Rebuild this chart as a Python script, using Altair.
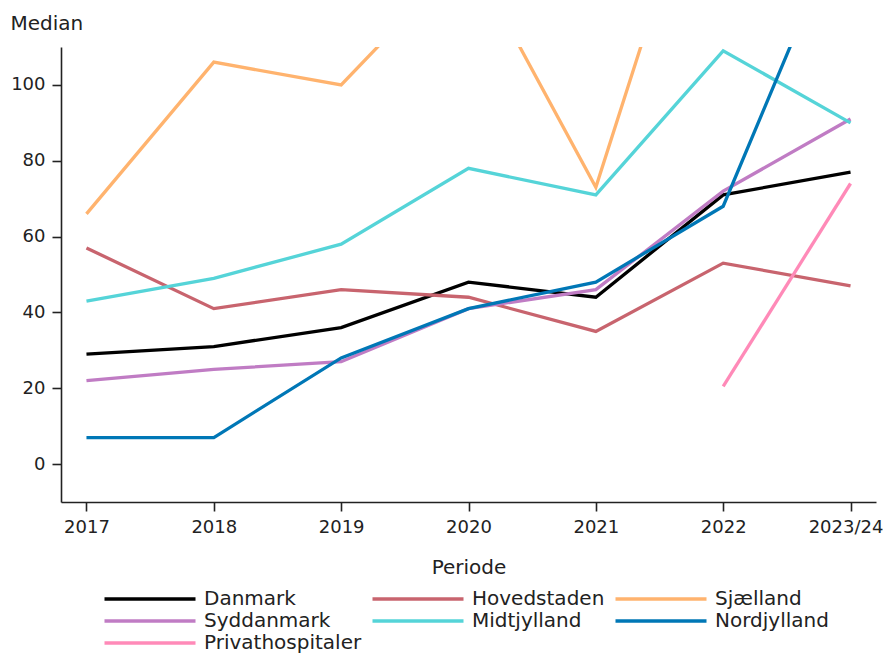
import altair as alt
import pandas as pd

periods = ["2017", "2018", "2019", "2020", "2021", "2022", "2023/24"]
regions = ["Danmark", "Hovedstaden", "Sjælland", "Syddanmark", "Midtjylland", "Nordjylland", "Privathospitaler"]
colors = ["#000000", "#c8646e", "#ffb36e", "#c07cc4", "#55d4d8", "#0077b6", "#ff8ab8"]

danmark = [29, 31, 36, 48, 44, 71, 77]
hovedstaden = [57, 41, 46, 44, 35, 53, 47]
sjaelland = [66, 106, 100, 135, 73, 178, 160]
syddanmark = [22, 25, 27, 41, 46, 72, 91]
midtjylland = [43, 49, 58, 78, 71, 109, 90]
nordjylland = [7, 7, 28, 41, 48, 68, 148]
privathospitaler = [None, None, None, None, None, 20.5, 74]

series = [danmark, hovedstaden, sjaelland, syddanmark, midtjylland, nordjylland, privathospitaler]
rows = []
for i, (name, vals) in enumerate(zip(regions, series)):
    for p, v in zip(periods, vals):
        if v is not None:
            rows.append({"Periode": p, "Median": v, "Region": name, "order": i})
df = pd.DataFrame(rows)

FONT = "DejaVu Sans"

chart = alt.Chart(df).mark_line(clip=True, strokeWidth=3.3).encode(
    x=alt.X("Periode:N", sort=periods,
            scale=alt.Scale(type="point", padding=0.2),
            axis=alt.Axis(title="Periode", labelAngle=0, titleY=71, titleBaseline="alphabetic",
                          titleFontSize=20, titleFontWeight="normal", labelFontSize=18,
                          tickSize=9, labelPadding=7,
                          labelOffset={"condition": {"test": "datum.value === '2023/24'", "value": -5},
                                       "value": 0})),
    y=alt.Y("Median:Q", scale=alt.Scale(domain=[-10, 110], nice=False, zero=False),
            axis=alt.Axis(title="Median", values=[0, 20, 40, 60, 80, 100], titleAngle=0,
                          titleAlign="left", titleBaseline="alphabetic", titleX=-51, titleY=-18,
                          titleFontSize=20, titleFontWeight="normal", labelFontSize=18,
                          tickSize=9, labelPadding=7)),
    color=alt.Color("Region:N", sort=regions,
                    scale=alt.Scale(domain=regions, range=colors),
                    legend=alt.Legend(title=None, orient="none", direction="horizontal",
                                      legendX=77, legendY=540,
                                      columns=3, symbolType="M-4.55,0H4.55", symbolSize=400,
                                      symbolStrokeWidth=3.5, symbolFillColor="transparent",
                                      labelFontSize=20, labelOffset=42,
                                      columnPadding=3, rowPadding=0, labelFont=FONT,
                                      labelLimit=300)),
    order=alt.Order("order:Q"),
    detail="Region:N",
).properties(
    width=815, height=455,
    autosize=alt.AutoSizeParams(type="none"),
    padding={"left": 53, "top": 39, "right": 7, "bottom": 152},
).configure_axis(
    grid=False, domainColor="#222222", domainWidth=1.6, tickColor="#222222", tickWidth=1.6,
    labelColor="#222222", titleColor="#222222", labelFont=FONT, titleFont=FONT,
).configure_legend(
    labelColor="#222222",
).configure_view(stroke=None)

chart.save("out.html", embed_options={"renderer": "svg", "actions": False})
